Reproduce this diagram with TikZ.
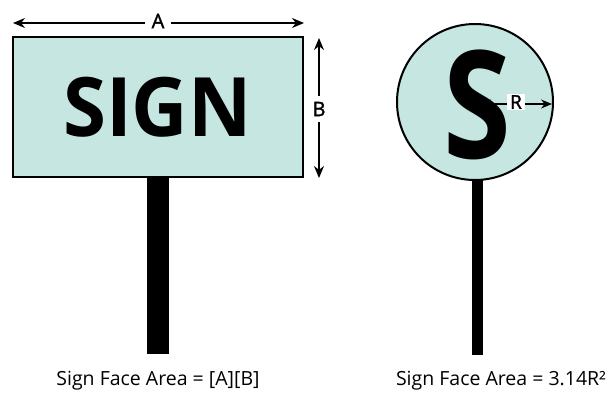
\documentclass[tikz,border=0pt]{standalone}
\usepackage{fontspec}
\setmainfont{Open Sans}
\newfontfamily\labelfont[FakeBold=1.5]{Open Sans}
\usetikzlibrary{arrows.meta}
\definecolor{signfill}{HTML}{C6E6E1}
\tikzset{
  face/.style={draw=black, fill=signfill, inner sep=0pt},
  pole/.style={fill=black, draw=none, inner sep=0pt},
  dim/.style={line width=1.3pt, {Stealth[length=12pt,width=10pt]}-{Stealth[length=12pt,width=10pt]}},
  dimlabel/.style={fill=white, inner sep=2pt, font=\labelfont\fontsize{20}{20}\selectfont},
  caption/.style={anchor=base, font=\fontsize{19.5}{19.5}\selectfont, inner sep=0pt}
}
\begin{document}
\begin{tikzpicture}[x=1pt,y=-1pt]
\useasboundingbox (0,0) rectangle (608,392);
% left sign
\node[pole, minimum width=22pt, minimum height=178pt] (pole1) at (158,265) {};
\node[face, line width=2.5pt, minimum width=290pt, minimum height=140pt] (board) at (158,107) {};
\node[inner sep=0pt, xscale=0.95, font=\fontsize{82}{82}\selectfont\bfseries] (signtxt) at (157.5,107) {SIGN};
\coordinate (a1) at (13,23);
\coordinate (a2) at (304,23);
\draw[dim] (a1) -- (a2);
\node[dimlabel, inner xsep=7pt, inner ysep=1pt] (alab) at (158,21) {A};
\coordinate (b1) at (319,38);
\coordinate (b2) at (319,178);
\draw[dim] (b1) -- (b2);
\node[dimlabel, inner xsep=1.5pt, inner ysep=6pt] (blab) at (319,109) {B};
% right sign
\node[pole, minimum width=11pt, minimum height=175pt] (pole2) at (477.5,267) {};
\node[face, circle, line width=2pt, minimum size=156pt] (disc) at (475,102) {};
\node[inner sep=0pt, xscale=0.82, font=\fontsize{150}{150}\selectfont\bfseries] (bigS) at (477,105) {S};
\coordinate (r1) at (480,104);
\coordinate (r2) at (552,104);
\draw[line width=1.3pt, {Stealth[length=11pt,width=9pt]}-{Stealth[length=11pt,width=9pt]}] (r1) -- (r2);
\node[fill=white, inner xsep=3pt, inner ysep=1pt, font=\labelfont\fontsize{19}{19}\selectfont] (rlab) at (516,102) {R};
% captions
\node[caption] (cap1) at (158,385) {Sign Face Area = [A][B]};
\node[caption] (cap2) at (501,385) {Sign Face Area = 3.14R²};
\end{tikzpicture}
\end{document}
